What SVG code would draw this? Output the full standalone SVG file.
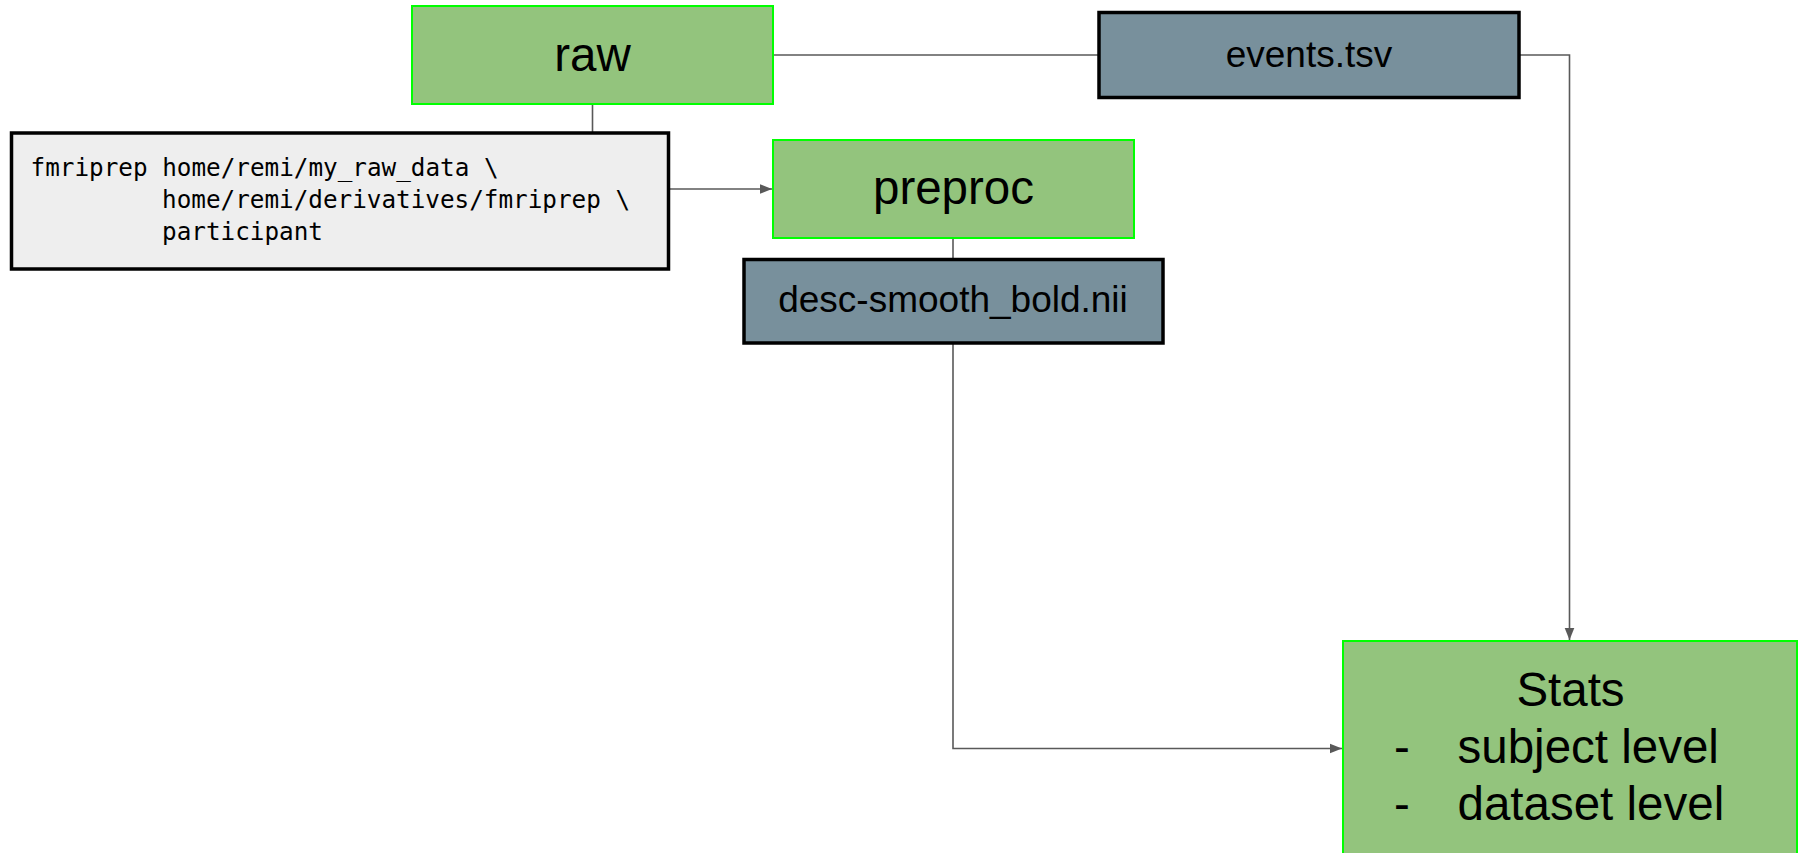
<svg xmlns="http://www.w3.org/2000/svg" width="1803" height="853" viewBox="0 0 1803 853">
  <defs>
    <style>
      .green { fill: #93c47d; stroke: #00ff00; stroke-width: 2; }
      .file { fill: #78909c; stroke: #000000; stroke-width: 3.5; }
      .cmd { fill: #eeeeee; stroke: #000000; stroke-width: 3.5; }
      .lbl { font-family: "Liberation Sans", Arial, sans-serif; fill: #000000; }
      .mono { font-family: "DejaVu Sans Mono", "Liberation Mono", monospace; font-size: 24.3px; fill: #000000; }
      .conn { fill: none; stroke: #595959; stroke-width: 1.6; }
    </style>
    <marker id="arrow" viewBox="0 0 10 10" refX="10" refY="5" markerWidth="12" markerHeight="12" markerUnits="userSpaceOnUse" orient="auto">
      <path d="M0,1 L10,5 L0,9 Z" fill="#595959"/>
    </marker>
  </defs>
  <rect width="1803" height="853" fill="#ffffff"/>

  <g id="connectors">
    <line class="conn" x1="592.5" y1="104" x2="592.5" y2="133"/>
    <line class="conn" x1="668" y1="189" x2="772" y2="189" marker-end="url(#arrow)"/>
    <line class="conn" x1="773" y1="55" x2="1099" y2="55"/>
    <polyline class="conn" points="1519,55 1569.5,55 1569.5,640" marker-end="url(#arrow)"/>
    <line class="conn" x1="953" y1="238" x2="953" y2="259"/>
    <polyline class="conn" points="953,343 953,748.5 1342,748.5" marker-end="url(#arrow)"/>
  </g>

  <g id="raw">
    <rect class="green" x="412" y="6" width="361" height="98"/>
    <text class="lbl" x="592.5" y="71" font-size="47.5" text-anchor="middle">raw</text>
  </g>

  <g id="events">
    <rect class="file" x="1099" y="12.5" width="420" height="85"/>
    <text class="lbl" x="1309" y="67" font-size="37" text-anchor="middle">events.tsv</text>
  </g>

  <g id="command">
    <rect class="cmd" x="11.5" y="133" width="657" height="136"/>
    <text class="mono" x="30.5" y="176">fmriprep home/remi/my_raw_data \</text>
    <text class="mono" x="162" y="208">home/remi/derivatives/fmriprep \</text>
    <text class="mono" x="162" y="240">participant</text>
  </g>

  <g id="preproc">
    <rect class="green" x="773" y="140" width="361" height="98"/>
    <text class="lbl" x="953.5" y="204" font-size="47.5" text-anchor="middle">preproc</text>
  </g>

  <g id="desc">
    <rect class="file" x="744" y="259.5" width="419" height="83.5"/>
    <text class="lbl" x="953" y="312" font-size="37" text-anchor="middle">desc-smooth_bold.nii</text>
  </g>

  <g id="stats">
    <rect class="green" x="1343" y="641" width="454" height="240"/>
    <text class="lbl" x="1570.5" y="706" font-size="47.5" text-anchor="middle">Stats</text>
    <text class="lbl" x="1394" y="763" font-size="47.5">-</text>
    <text class="lbl" x="1457.5" y="763" font-size="47.5">subject level</text>
    <text class="lbl" x="1394" y="820" font-size="47.5">-</text>
    <text class="lbl" x="1457.5" y="820" font-size="47.5">dataset level</text>
  </g>
</svg>
